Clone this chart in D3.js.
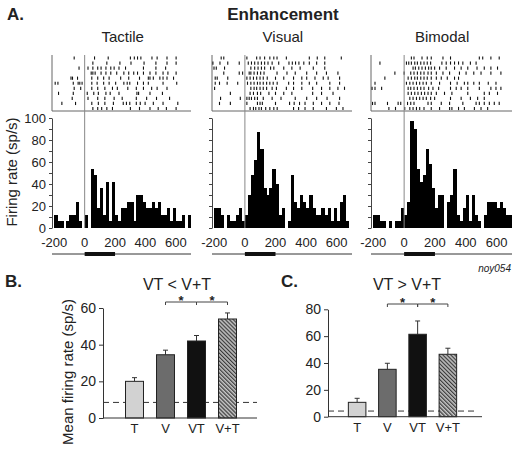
<!DOCTYPE html>
<html>
<head>
<meta charset="utf-8">
<script src="https://cdn.jsdelivr.net/npm/d3@7"></script>
<style>
  body { margin: 0; background: #fff; }
  text { font-family: "Liberation Sans", Arial, sans-serif; fill: #222; }
</style>
</head>
<body>
<div id="chart"></div>
<script>
// ---- data ----
const panelNames = ["Tactile", "Visual", "Bimodal"];

// spike times (ms) per trial
const rasterTactile = [
  [-69, 65, 155, 301, 327, 348, 370, 443, 477, 542, 602],
  [54, 146, 232, 305, 391, 469, 542, 602],
  [-37, 22, 54, 86, 108, 140, 172, 194, 226, 269, 387, 469, 533],
  [43, 54, 69, 108, 140, 172, 211, 258, 290, 323, 348, 387, 430, 469, 516, 548, 602],
  [-90, -80, -47, 47, 86, 125, 161, 237, 290, 361, 419, 430, 452, 495, 516, 542, 585],
  [-194, -176, -75, -43, -32, -17, 47, 82, 125, 161, 204, 258, 280, 297, 348, 387, 419, 516, 606],
  [-69, -26, 47, 86, 133, 183, 215, 284, 340, 387, 441, 477, 542],
  [-172, -75, 17, 60, 90, 140, 168, 226, 344, 355, 430, 512],
  [-82, 22, 86, 133, 194, 247, 340, 408, 473, 559],
  [-150, -60, 47, 90, 133, 189, 254, 275, 297, 340, 366, 398, 452, 516, 613],
  [54, 86, 112, 146, 183, 301, 361, 430, 484, 538, 602]
];
const rasterVisual = [
  [-155, -138, 13, 77, 99, 129, 163, 189, 210, 271, 421, 473, 522, 630],
  [-209, -163, -112, -37, 22, 43, 64, 86, 108, 129, 151, 178, 221, 288, 310, 331, 353, 385, 421, 469, 522],
  [-202, -187, -133, 39, 64, 86, 108, 129, 168, 189, 254, 307, 361, 447, 522],
  [-138, -37, -15, 28, 39, 60, 82, 103, 125, 210, 275, 329, 404, 469, 533, 608],
  [-194, -181, -112, 13, 34, 56, 77, 99, 120, 146, 200, 254, 318, 372, 404, 458, 512, 544, 619],
  [-194, -166, -116, -47, 17, 39, 60, 82, 99, 120, 142, 163, 185, 211, 286, 318, 372, 421, 469, 555, 619],
  [-198, 39, 60, 77, 99, 120, 142, 178, 206, 271, 318, 372, 443, 501, 555, 608, 651],
  [-95, 34, 56, 82, 103, 157, 200, 254, 307, 443, 501, 576],
  [-159, -30, 13, 28, 43, 64, 82, 120, 178, 236, 329, 404, 469, 537, 619],
  [-166, -95, 13, 82, 99, 114, 200, 292, 322, 357, 393, 447, 501, 555, 615],
  [34, 56, 71, 92, 108, 136, 163, 189, 211, 318, 351, 393, 447, 533, 598, 641]
];
const rasterBimodal = [
  [47, 64, 116, 150, 176, 252, 301, 488, 510, 563, 617],
  [-157, 15, 30, 47, 69, 86, 108, 129, 150, 172, 245, 273, 301, 327, 353, 381, 430, 467],
  [58, 73, 95, 116, 138, 159, 176, 198, 230, 273, 327, 370, 413, 473, 520, 563, 606],
  [-60, 0, 43, 64, 86, 108, 129, 155, 176, 209, 252, 295, 359, 402, 452, 499, 563, 628],
  [-125, 26, 47, 69, 86, 108, 129, 150, 176, 209, 241, 280, 327, 353],
  [-189, 15, 37, 58, 80, 101, 123, 144, 176, 230, 301, 344, 391, 413, 452, 488, 546, 596],
  [-208, -189, -146, 26, 43, 64, 86, 108, 129, 159, 187, 224, 301, 338, 370, 413, 488, 563, 596, 628],
  [26, 47, 69, 90, 112, 133, 155, 176, 209, 262, 310, 413, 520, 553, 606],
  [37, 58, 80, 101, 123, 144, 172, 198, 301, 370, 430, 477, 520],
  [-205, -189, -108, -39, -22, 22, 43, 64, 155, 176, 241, 295, 381, 467, 488, 520, 553, 585, 617],
  [-99, -56, 4, 37, 58, 80, 101, 129, 176, 230, 295, 310, 353, 391, 456, 499, 542]
];

// PSTH, 20 ms bins starting at -200 ms (sp/s)
const binStart = -200, binWidth = 20;
const histTactile = [12, 6, 6, 0, 6, 12, 12, 24, 6, 0,
  12, 0, 54, 48, 18, 36, 12, 42, 6, 42,
  12, 6, 18, 18, 24, 24, 6, 30, 30, 24,
  18, 18, 24, 18, 24, 12, 12, 18, 6, 18,
  6, 6, 12, 0, 12];
const histVisual = [18, 18, 12, 0, 12, 6, 6, 12, 18, 6,
  12, 30, 48, 62, 87, 72, 36, 30, 36, 54,
  40, 12, 18, 0, 6, 48, 24, 18, 30, 24,
  18, 30, 18, 12, 12, 18, 12, 18, 6, 18,
  6, 24, 30, 6];
const histBimodal = [12, 12, 6, 6, 0, 6, 0, 6, 6, 18,
  12, 24, 97, 90, 54, 42, 48, 72, 58, 36,
  18, 30, 30, 0, 24, 30, 54, 12, 6, 18,
  30, 6, 30, 12, 6, 0, 12, 24, 24, 24,
  18, 24, 18, 12, 12];

const histTicks = [0, 20, 40, 60, 80, 100];
const timeTicks = [-200, 0, 200, 400, 600];
const stimulus = [0, 200];

// bar charts
const conditions = ["T", "V", "VT", "V+T"];
const meanB = [20, 34.5, 42, 54];
const errB = [22, 37, 45, 57.3];
const baseB = 8.5;
const meanC = [10.7, 35.3, 61.4, 46.5];
const errC = [13.7, 39.8, 71.3, 51];
const baseC = 4.2;
const ticksB = [0, 20, 40, 60];
const ticksC = [0, 20, 40, 60, 80];
const pairs = [["V", "VT"], ["VT", "V+T"]];

// ---- drawing ----
const svg = d3.select("#chart").append("svg")
  .attr("width", 520).attr("height", 452);

const defs = svg.append("defs");
const hatch = defs.append("pattern")
  .attr("id", "hatch").attr("patternUnits", "userSpaceOnUse")
  .attr("width", 2.8).attr("height", 2.8)
  .attr("patternTransform", "rotate(-45)");
hatch.append("rect").attr("width", 2.8).attr("height", 2.8).attr("fill", "#c4c4c4");
hatch.append("line").attr("x1", 0.6).attr("x2", 0.6).attr("y1", 0).attr("y2", 2.8)
  .attr("stroke", "#3a3a3a").attr("stroke-width", 1.2);

svg.append("text").attr("x", 7).attr("y", 20)
  .attr("font-size", 17).attr("font-weight", "bold").text("A.");
svg.append("text").attr("x", 283).attr("y", 20).attr("text-anchor", "middle")
  .attr("font-size", 17).attr("font-weight", "bold").text("Enhancement");

const rasters = [rasterTactile, rasterVisual, rasterBimodal];
const hists = [histTactile, histVisual, histBimodal];
const panelLeft = [52, 212, 371];
const panelWidth = [139, 140, 141];

const y = d3.scaleLinear().domain([0, 100]).range([228, 118]);

panelNames.forEach((name, p) => {
  const x = d3.scaleLinear().domain([-215, 700])
    .range([panelLeft[p], panelLeft[p] + panelWidth[p]]);
  const g = svg.append("g");

  g.append("text").attr("x", x(0) + 38).attr("y", 42).attr("text-anchor", "middle")
    .attr("font-size", 15).text(name);

  // raster frame
  g.append("line").attr("x1", x.range()[0]).attr("x2", x.range()[0])
    .attr("y1", 55).attr("y2", 111).attr("stroke", "#666");
  g.append("line").attr("x1", x.range()[0]).attr("x2", x.range()[1])
    .attr("y1", 111).attr("y2", 111).attr("stroke", "#666");

  // spikes
  const row = d3.scaleLinear().domain([0, 10]).range([58, 108.5]);
  rasters[p].forEach((spikes, r) => {
    g.append("g").selectAll("line")
      .data(spikes.filter(t => t >= -215 && t <= 700))
      .join("line")
      .attr("x1", d => x(d)).attr("x2", d => x(d))
      .attr("y1", row(r) - 1.6).attr("y2", row(r) + 1.6)
      .attr("stroke", "#111").attr("stroke-width", 1.1);
  });

  // histogram bars
  g.append("g").selectAll("rect")
    .data(hists[p])
    .join("rect")
    .attr("shape-rendering", "crispEdges")
    .attr("x", (d, i) => x(binStart + i * binWidth))
    .attr("width", (d, i) => x(binStart + (i + 1) * binWidth) - x(binStart + i * binWidth) + 0.3)
    .attr("y", d => y(d))
    .attr("height", d => y(0) - y(d))
    .attr("fill", "#000");

  // y axis
  const ax = g.append("g").attr("transform", `translate(${x.range()[0]},0)`)
    .call(d3.axisLeft(y).tickValues(d3.range(0, 101, 10)).tickSize(3)
      .tickSizeOuter(0).tickFormat(d => (p === 0 && histTicks.includes(d)) ? d : ""));
  ax.select(".domain").attr("stroke", "#444");
  ax.selectAll(".tick line").attr("stroke", "#444");
  ax.selectAll(".tick text").attr("font-size", 13).attr("fill", "#222")
    .attr("font-family", "Liberation Sans, Arial, sans-serif");

  // stimulus onset line
  g.append("line").attr("x1", x(0)).attr("x2", x(0))
    .attr("y1", 55).attr("y2", 228).attr("stroke", "#888");

  // time tick labels
  g.append("g").selectAll("text").data(timeTicks).join("text")
    .attr("x", d => x(d)).attr("y", 247).attr("text-anchor", "middle")
    .attr("font-size", 13).text(d => d);

  // stimulus bar
  g.append("line").attr("x1", x.range()[0]).attr("x2", x.range()[1])
    .attr("y1", 254).attr("y2", 254).attr("stroke", "#333");
  g.append("rect").attr("x", x(stimulus[0])).attr("width", x(stimulus[1]) - x(stimulus[0]))
    .attr("y", 252).attr("height", 4).attr("fill", "#111");
});

svg.append("text").attr("transform", "translate(17,172) rotate(-90)")
  .attr("text-anchor", "middle").attr("font-size", 15).text("Firing rate (sp/s)");
svg.append("text").attr("x", 511).attr("y", 272).attr("text-anchor", "end")
  .attr("font-size", 10).attr("font-style", "italic").attr("fill", "#444").text("noy054");

// ---- bar panels ----
const fills = ["#d2d2d2", "#6c6c6c", "#111", "url(#hatch)"];

function barPanel(o) {
  const g = svg.append("g");
  const yb = d3.scaleLinear().domain(o.domain).range(o.yRange);
  const xb = d3.scaleBand().domain(conditions).range(o.band).paddingInner(0.42).paddingOuter(0.21);

  g.append("text").attr("x", o.labelX).attr("y", 287).attr("font-size", 17)
    .attr("font-weight", "bold").text(o.label);
  g.append("text").attr("x", o.titleX).attr("y", 290).attr("text-anchor", "middle")
    .attr("font-size", 16).text(o.title);

  // dashed baseline
  g.append("line").attr("x1", o.axisX).attr("x2", o.dashEnd)
    .attr("y1", yb(o.base)).attr("y2", yb(o.base))
    .attr("stroke", "#333").attr("stroke-dasharray", "6,4");

  // error bars
  g.append("g").selectAll("path").data(conditions).join("path")
    .attr("d", (c, i) => {
      const cx = xb(c) + xb.bandwidth() / 2;
      return `M${cx},${yb(o.mean[i])}V${yb(o.err[i])}M${cx - 2.5},${yb(o.err[i])}H${cx + 2.5}`;
    })
    .attr("stroke", "#333").attr("fill", "none");

  g.append("g").selectAll("rect").data(conditions).join("rect")
    .attr("x", c => xb(c)).attr("width", xb.bandwidth())
    .attr("y", (c, i) => yb(o.mean[i]))
    .attr("height", (c, i) => yb(0) - yb(o.mean[i]))
    .attr("fill", (c, i) => fills[i])
    .attr("stroke", "#222").attr("stroke-width", 1);

  const ax = g.append("g").attr("transform", `translate(${o.axisX},0)`)
    .call(d3.axisLeft(yb).tickValues(o.ticks).tickSize(4).tickSizeOuter(0));
  ax.select(".domain").attr("stroke", "#333");
  ax.selectAll(".tick line").attr("stroke", "#333");
  ax.selectAll(".tick text").attr("font-size", 14).attr("fill", "#222")
    .attr("font-family", "Liberation Sans, Arial, sans-serif");

  g.append("line").attr("x1", o.axisX).attr("x2", o.axisEnd)
    .attr("y1", yb(0)).attr("y2", yb(0)).attr("stroke", "#333");

  g.append("g").selectAll("text").data(conditions).join("text")
    .attr("x", c => xb(c) + xb.bandwidth() / 2).attr("y", yb(0) + 15)
    .attr("text-anchor", "middle").attr("font-size", 13).text(c => c);

  // significance brackets
  pairs.forEach(([a, b]) => {
    const x1 = xb(a) + xb.bandwidth() / 2, x2 = xb(b) + xb.bandwidth() / 2;
    g.append("path")
      .attr("d", `M${x1},${o.bracketY + 3}V${o.bracketY}H${x2}V${o.bracketY + 3}`)
      .attr("stroke", "#444").attr("fill", "none");
    g.append("text").attr("x", (x1 + x2) / 2).attr("y", o.bracketY + 3)
      .attr("text-anchor", "middle").attr("font-size", 13).attr("font-weight", "bold").text("*");
  });
}

barPanel({ label: "B.", labelX: 5, title: "VT < V+T", titleX: 177,
  domain: [0, 60], yRange: [418, 308], ticks: ticksB, band: [119, 243],
  axisX: 103, axisEnd: 257, dashEnd: 257, mean: meanB, err: errB, base: baseB, bracketY: 302 });
barPanel({ label: "C.", labelX: 281, title: "VT > V+T", titleX: 407,
  domain: [0, 80], yRange: [416.7, 309.3], ticks: ticksC, band: [342, 463],
  axisX: 328, axisEnd: 482, dashEnd: 478, mean: meanC, err: errC, base: baseC, bracketY: 304 });

svg.append("text").attr("transform", "translate(73,372) rotate(-90)")
  .attr("text-anchor", "middle").attr("font-size", 15).text("Mean firing rate (sp/s)");
</script>
</body>
</html>
